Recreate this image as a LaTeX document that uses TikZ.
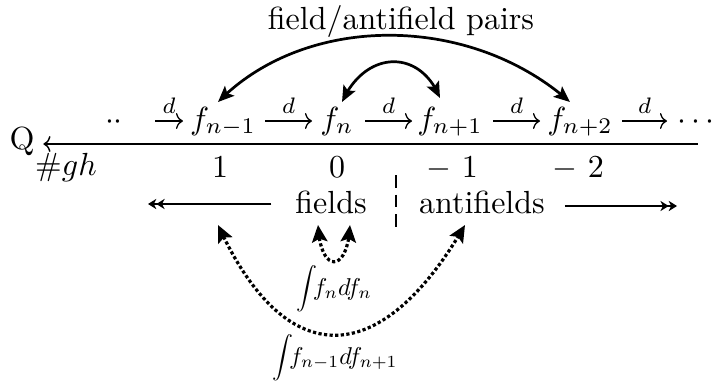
\documentclass[tikz,border=0pt]{standalone}
\usepackage{graphicx}
\usetikzlibrary{arrows.meta,bending,calc}
\newcommand{\myint}{\vcenter{\hbox{\scalebox{0.86}{$\displaystyle\int$}}}}
\begin{document}
\begin{tikzpicture}[x=0.3125pt,y=-0.3125pt,
  txt/.style={inner sep=0pt,outer sep=0pt,anchor=base},
  darr/.style={-{Computer Modern Rightarrow[length=2.2pt,width=5pt]},line width=0.4pt},
  dlab/.style={midway,above=2.2pt,inner sep=0pt},
  qline/.style={{Computer Modern Rightarrow[length=2.2pt,width=5pt]}-,line width=0.45pt},
  parc/.style={{Stealth[length=5pt,width=4.2pt,inset=1pt]}-{Stealth[length=5pt,width=4.2pt,inset=1pt]},line width=0.85pt},
  farr/.style={-{Stealth[length=2.6pt,width=3.2pt,inset=0.8pt]Stealth[length=2.6pt,width=3.2pt,inset=0.8pt]},line width=0.65pt},
  dotarc/.style={{Stealth[length=5.3pt,width=4.8pt,inset=1pt]}-{Stealth[length=5.3pt,width=4.8pt,inset=1pt]},line width=1pt,dash pattern=on 1pt off 0.75pt},
  sep/.style={line width=0.85pt,dash pattern=on 4pt off 2.1pt}]
\useasboundingbox (0,0) rectangle (714,381);

\node[txt] (pairs) at (401,29) {field/antifield pairs};

\node[txt] (dots) at (114,129) {$\cdot\cdot$};
\node[txt] (f1) at (223,129) {$f_{n-1}$};
\node[txt] (f2) at (337,129) {$f_n$};
\node[txt] (f3) at (450,129) {$f_{n+1}$};
\node[txt] (f4) at (580,129) {$f_{n+2}$};
\node[txt,anchor=base west] (cdots) at (677,129) {$\cdots$};

\draw[darr] ($(dots.base)+(41,-8)$) -- node[dlab]{$\scriptstyle d$} ($(f1.base)+(-40,-8)$);
\draw[darr] ($(f1.base)+(42,-8)$) -- node[dlab]{$\scriptstyle d$} ($(f2.base)+(-25,-8)$);
\draw[darr] ($(f2.base)+(28,-8)$) -- node[dlab]{$\scriptstyle d$} ($(f3.base)+(-38,-8)$);
\draw[darr] ($(f3.base)+(43,-8)$) -- node[dlab]{$\scriptstyle d$} ($(f4.base)+(-40,-8)$);
\draw[darr] ($(f4.base)+(42,-8)$) -- node[dlab]{$\scriptstyle d$} ($(cdots.base west)+(-10,-8)$);

\draw[parc] ($(f1.base)+(-5,-27)$) .. controls (305,13) and (470,13) .. ($(f4.base)+(-10,-27)$);
\draw[parc] ($(f2.base)+(5,-27)$) .. controls (365,50) and (420,48) .. ($(f3.base)+(-10,-31)$);

\node[txt] (Q) at (22,149) {Q};
\coordinate (qend) at (698,144);
\draw[qline] ($(Q.base east)+(9,-5)$) -- (qend);
\node[txt] (gh) at (66,175) {$\#gh$};

\node[txt] (g1) at (220,177) {$1$};
\node[txt] (g0) at (337,177) {$0$};
\node[txt] (gm1) at (452,177) {$-\ 1$};
\node[txt] (gm2) at (578,177) {$-\ 2$};

\node[txt] (fields) at (331,213) {fields};
\node[txt] (antifields) at (482,213) {antifields};
\coordinate (da) at (396,175);
\coordinate (db) at (396,228);
\draw[sep] (da) -- (db);

\coordinate (lend) at (148,204);
\coordinate (rend) at (677,206);
\draw[farr] ($(fields.base west)+(-24,-9)$) -- (lend);
\draw[farr] ($(antifields.base east)+(20,-7)$) -- (rend);

\draw[dotarc] ($(fields.base)+(-13,12)$) .. controls (320,274) and (348,274) .. ($(fields.base)+(19,12)$);
\draw[dotarc] ($(fields.base)+(-113,12)$) .. controls (285,372) and (380,372) .. ($(antifields.base)+(-17,12)$);

\node[txt] (int1) at (334,295) {\scalebox{0.76}{$\myint\! f_n df_n$}};
\node[txt] (int2) at (335,364) {\scalebox{0.76}{$\myint\! f_{n-1} df_{n+1}$}};
\end{tikzpicture}
\end{document}
